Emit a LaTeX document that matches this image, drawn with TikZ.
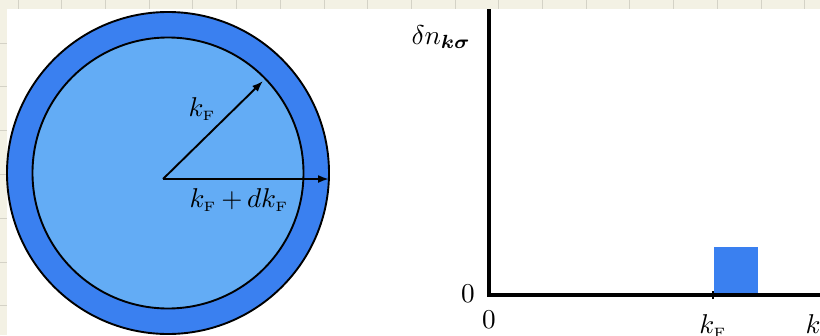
\documentclass[tikz,border=0pt]{standalone}
\usepackage{bm}
\usetikzlibrary{arrows.meta}
\definecolor{ringblue}{RGB}{58,128,240}
\definecolor{diskblue}{RGB}{99,172,245}
\definecolor{paper}{RGB}{243,241,228}
\definecolor{gridc}{RGB}{212,210,198}
\tikzset{
  edgeline/.style={draw=black,line width=1.9pt},
  vecarrow/.style={line width=1.9pt,-{Latex[length=11pt,width=8pt]}},
  axisline/.style={line width=3.4pt},
  lbl/.style={inner sep=0pt,scale=2.72},
}
\begin{document}
\begin{tikzpicture}[x=1pt,y=-1pt]
\useasboundingbox (0,0) rectangle (820,335);
\clip (0,0) rectangle (820,335);
% page background with grid
\fill[paper] (0,0) rectangle (820,335);
\foreach \i in {0,...,18} \draw[gridc,line width=0.8pt] ({18+43.7*\i},0) -- ({18+43.7*\i},335);
\foreach \j in {0,...,6} \draw[gridc,line width=0.8pt] (0,{43+43.8*\j}) -- (820,{43+43.8*\j});
\fill[white] (7,9) rectangle (830,340);
% sphere
\coordinate (O) at (168,173);
\coordinate (c) at (163,179);
\draw[edgeline,fill=ringblue] (O) circle[radius=161];
\draw[edgeline,fill=diskblue] (O) circle[radius=135.5];
\coordinate (tipA) at (263,81);
\coordinate (tipB) at (329,179);
\draw[vecarrow] (c) -- (tipA);
\draw[vecarrow] (c) -- (tipB);
\node[lbl,anchor=base west] (kf) at (188,116) {$k_{\scriptscriptstyle\mathrm{F}}$};
\node[lbl,anchor=base west] (kfdk) at (189,207) {$k_{\scriptscriptstyle\mathrm{F}}\,{+}\,dk_{\scriptscriptstyle\mathrm{F}}$};
% plot
\coordinate (orig) at (489,295);
\coordinate (ytop) at (489,9);
\coordinate (xend) at (830,295);
\fill[ringblue] (714,247) rectangle (758,295);
\draw[axisline] (ytop) -- (orig) -- (xend);
\coordinate (tick) at (713,295);
\draw[line width=2.5pt] ([yshift=-4]tick) -- ([yshift=4]tick);
\node[lbl,anchor=base west] (dn) at (411,44) {$\delta n_{\bm{k}\bm{\sigma}}$};
\node[lbl,anchor=base] (zy) at (468,302) {$0$};
\node[lbl,anchor=base] (zx) at (489,328) {$0$};
\node[lbl,anchor=base] (kfx) at (713,333) {$k_{\scriptscriptstyle\mathrm{F}}$};
\node[lbl,anchor=base west] (kx) at (805,333) {$k$};
\end{tikzpicture}
\end{document}
